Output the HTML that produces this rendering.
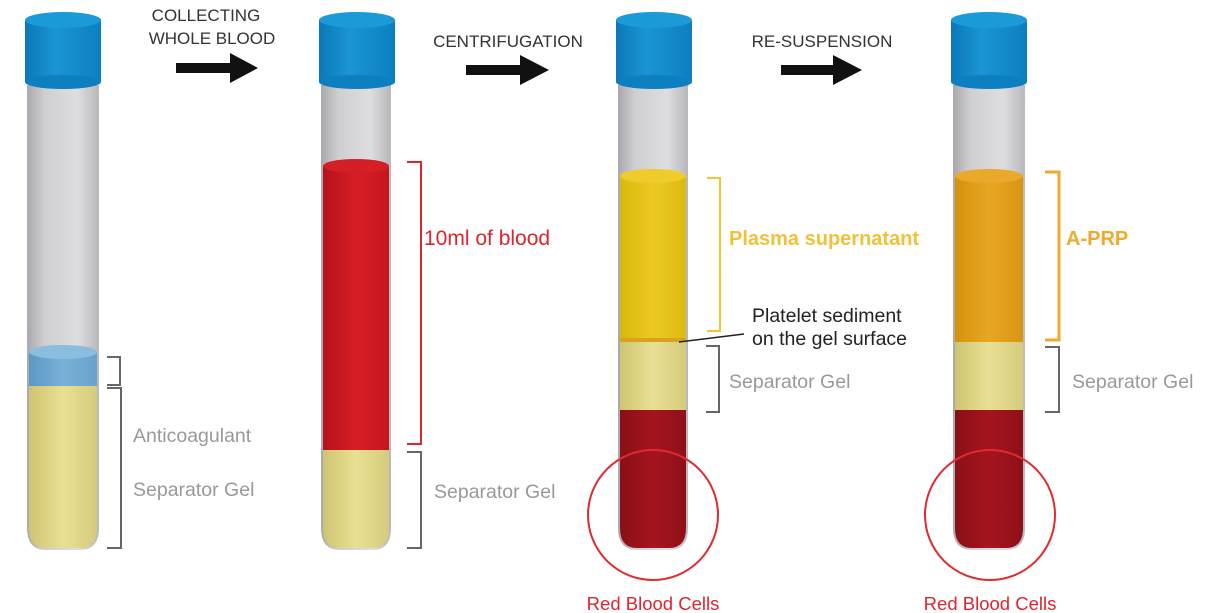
<!DOCTYPE html>
<html><head><style>
html,body{margin:0;padding:0;background:#fff;}
svg{display:block}
text{font-family:"Liberation Sans",sans-serif;}
</style></head><body>
<svg width="1209" height="613" viewBox="0 0 1209 613">
<defs>
<linearGradient id="cap" x1="0" x2="1"><stop offset="0" stop-color="#0a78b8"/><stop offset="0.4" stop-color="#1b95d4"/><stop offset="1" stop-color="#0c7fc0"/></linearGradient>
<linearGradient id="glass" x1="0" x2="1"><stop offset="0" stop-color="#a9a9ad"/><stop offset="0.25" stop-color="#cfcfd2"/><stop offset="0.7" stop-color="#dedee0"/><stop offset="1" stop-color="#b8b8bc"/></linearGradient>
<linearGradient id="gel" x1="0" x2="1"><stop offset="0" stop-color="#cfc470"/><stop offset="0.5" stop-color="#e8e094"/><stop offset="1" stop-color="#d6cb7c"/></linearGradient>
<linearGradient id="anti" x1="0" x2="1"><stop offset="0" stop-color="#5c98c4"/><stop offset="0.5" stop-color="#78b0d8"/><stop offset="1" stop-color="#6aa2cc"/></linearGradient>
<linearGradient id="red" x1="0" x2="1"><stop offset="0" stop-color="#b5121b"/><stop offset="0.5" stop-color="#d81e25"/><stop offset="1" stop-color="#c5161e"/></linearGradient>
<linearGradient id="dred" x1="0" x2="1"><stop offset="0" stop-color="#8a0f18"/><stop offset="0.5" stop-color="#a5141e"/><stop offset="1" stop-color="#8e1019"/></linearGradient>
<linearGradient id="yel" x1="0" x2="1"><stop offset="0" stop-color="#d9b80c"/><stop offset="0.5" stop-color="#edc924"/><stop offset="1" stop-color="#dcbb12"/></linearGradient>
<linearGradient id="org" x1="0" x2="1"><stop offset="0" stop-color="#d4920c"/><stop offset="0.5" stop-color="#e8a723"/><stop offset="1" stop-color="#d89512"/></linearGradient>
</defs>

<!-- Tube 1 -->
<g>
<path d="M27 85 L99 85 L99 528 Q99 550 80 550 L46 550 Q27 550 27 528 Z" fill="url(#glass)"/>
<path d="M29 386 L97 386 L97 528 Q97 548 80 548 L46 548 Q29 548 29 528 Z" fill="url(#gel)"/>
<rect x="29" y="352" width="68" height="34" fill="url(#anti)"/>
<ellipse cx="63" cy="352" rx="34" ry="7" fill="#8bbede"/>
<rect x="25" y="20" width="76" height="62" fill="url(#cap)"/>
<ellipse cx="63" cy="82" rx="38" ry="7" fill="#0c7fc0"/>
<ellipse cx="63" cy="20" rx="38" ry="8" fill="#1a9ad8"/>
</g>
<!-- Tube 2 -->
<g>
<path d="M321 85 L391 85 L391 528 Q391 550 372 550 L340 550 Q321 550 321 528 Z" fill="url(#glass)"/>
<path d="M323 450 L389 450 L389 528 Q389 548 372 548 L340 548 Q323 548 323 528 Z" fill="url(#gel)"/>
<rect x="323" y="166" width="66" height="284" fill="url(#red)"/>
<ellipse cx="356" cy="166" rx="33" ry="7" fill="#d41f27"/>
<rect x="319" y="20" width="76" height="62" fill="url(#cap)"/>
<ellipse cx="357" cy="82" rx="38" ry="7" fill="#0c7fc0"/>
<ellipse cx="357" cy="20" rx="38" ry="8" fill="#1a9ad8"/>
</g>
<!-- Tube 3 -->
<g>
<path d="M618 85 L688 85 L688 528 Q688 550 669 550 L637 550 Q618 550 618 528 Z" fill="url(#glass)"/>
<path d="M620 410 L686 410 L686 528 Q686 548 669 548 L637 548 Q620 548 620 528 Z" fill="url(#dred)"/>
<rect x="620" y="342" width="66" height="68" fill="url(#gel)"/>
<rect x="620" y="176" width="66" height="164" fill="url(#yel)"/>
<rect x="620" y="338" width="66" height="4" fill="#d9a21c"/>
<ellipse cx="653" cy="176" rx="33" ry="7" fill="#efcc2a"/>
<rect x="616" y="20" width="76" height="62" fill="url(#cap)"/>
<ellipse cx="654" cy="82" rx="38" ry="7" fill="#0c7fc0"/>
<ellipse cx="654" cy="20" rx="38" ry="8" fill="#1a9ad8"/>
</g>
<!-- Tube 4 -->
<g>
<path d="M953 85 L1025 85 L1025 528 Q1025 550 1006 550 L972 550 Q953 550 953 528 Z" fill="url(#glass)"/>
<path d="M955 410 L1023 410 L1023 528 Q1023 548 1006 548 L972 548 Q955 548 955 528 Z" fill="url(#dred)"/>
<rect x="955" y="342" width="68" height="68" fill="url(#gel)"/>
<rect x="955" y="176" width="68" height="166" fill="url(#org)"/>
<ellipse cx="989" cy="176" rx="34" ry="7" fill="#eaa92a"/>
<rect x="951" y="20" width="76" height="62" fill="url(#cap)"/>
<ellipse cx="989" cy="82" rx="38" ry="7" fill="#0c7fc0"/>
<ellipse cx="989" cy="20" rx="38" ry="8" fill="#1a9ad8"/>
</g>

<!-- Arrows -->
<g fill="#111">
<rect x="176" y="63" width="56" height="10"/><polygon points="230,53 258,68 230,83"/>
<rect x="466" y="65" width="56" height="10"/><polygon points="520,55 549,70 520,85"/>
<rect x="781" y="65" width="54" height="10"/><polygon points="833,55 862,70 833,85"/>
</g>
<g font-size="17" fill="#333" text-anchor="middle">
<text x="206" y="21">COLLECTING</text>
<text x="212" y="44">WHOLE BLOOD</text>
<text x="508" y="47">CENTRIFUGATION</text>
<text x="822" y="47">RE-SUSPENSION</text>
</g>

<!-- Brackets -->
<g fill="none" stroke-width="2">
<path d="M107 357 H120 V385 H107" stroke="#666"/>
<path d="M107 388 H121 V548 H107" stroke="#666"/>
<path d="M407 162 H421 V444 H407" stroke="#e0242c"/>
<path d="M407 452 H421 V548 H407" stroke="#666"/>
<path d="M707 178 H720 V331 H707" stroke="#f2c432"/>
<path d="M706 346 H719 V412 H706" stroke="#666"/>
<path d="M1045 172 H1059 V340 H1045" stroke="#f0a92a" stroke-width="3"/>
<path d="M1045 347 H1059 V412 H1045" stroke="#666"/>
<line x1="679" y1="342" x2="744" y2="334" stroke="#222" stroke-width="1.5"/>
<circle cx="653" cy="515" r="65" stroke="#e02a30"/>
<circle cx="990" cy="515" r="65" stroke="#e02a30"/>
</g>

<!-- Labels -->
<g font-size="19.5">
<text x="133" y="442" fill="#999">Anticoagulant</text>
<text x="133" y="496" fill="#999">Separator Gel</text>
<text x="424" y="245" fill="#e0242c" font-size="21">10ml of blood</text>
<text x="434" y="498" fill="#999">Separator Gel</text>
<text x="729" y="245" fill="#f2c13a" font-weight="bold" font-size="20">Plasma supernatant</text>
<text x="752" y="322" fill="#222">Platelet sediment</text>
<text x="752" y="345" fill="#222">on the gel surface</text>
<text x="729" y="388" fill="#999">Separator Gel</text>
<text x="1066" y="245" fill="#f0a92a" font-weight="bold" font-size="20">A-PRP</text>
<text x="1072" y="388" fill="#999">Separator Gel</text>
<text x="653" y="610" fill="#e0242c" text-anchor="middle" font-size="18.5">Red Blood Cells</text>
<text x="990" y="610" fill="#e0242c" text-anchor="middle" font-size="18.5">Red Blood Cells</text>
</g>
</svg>
</body></html>
